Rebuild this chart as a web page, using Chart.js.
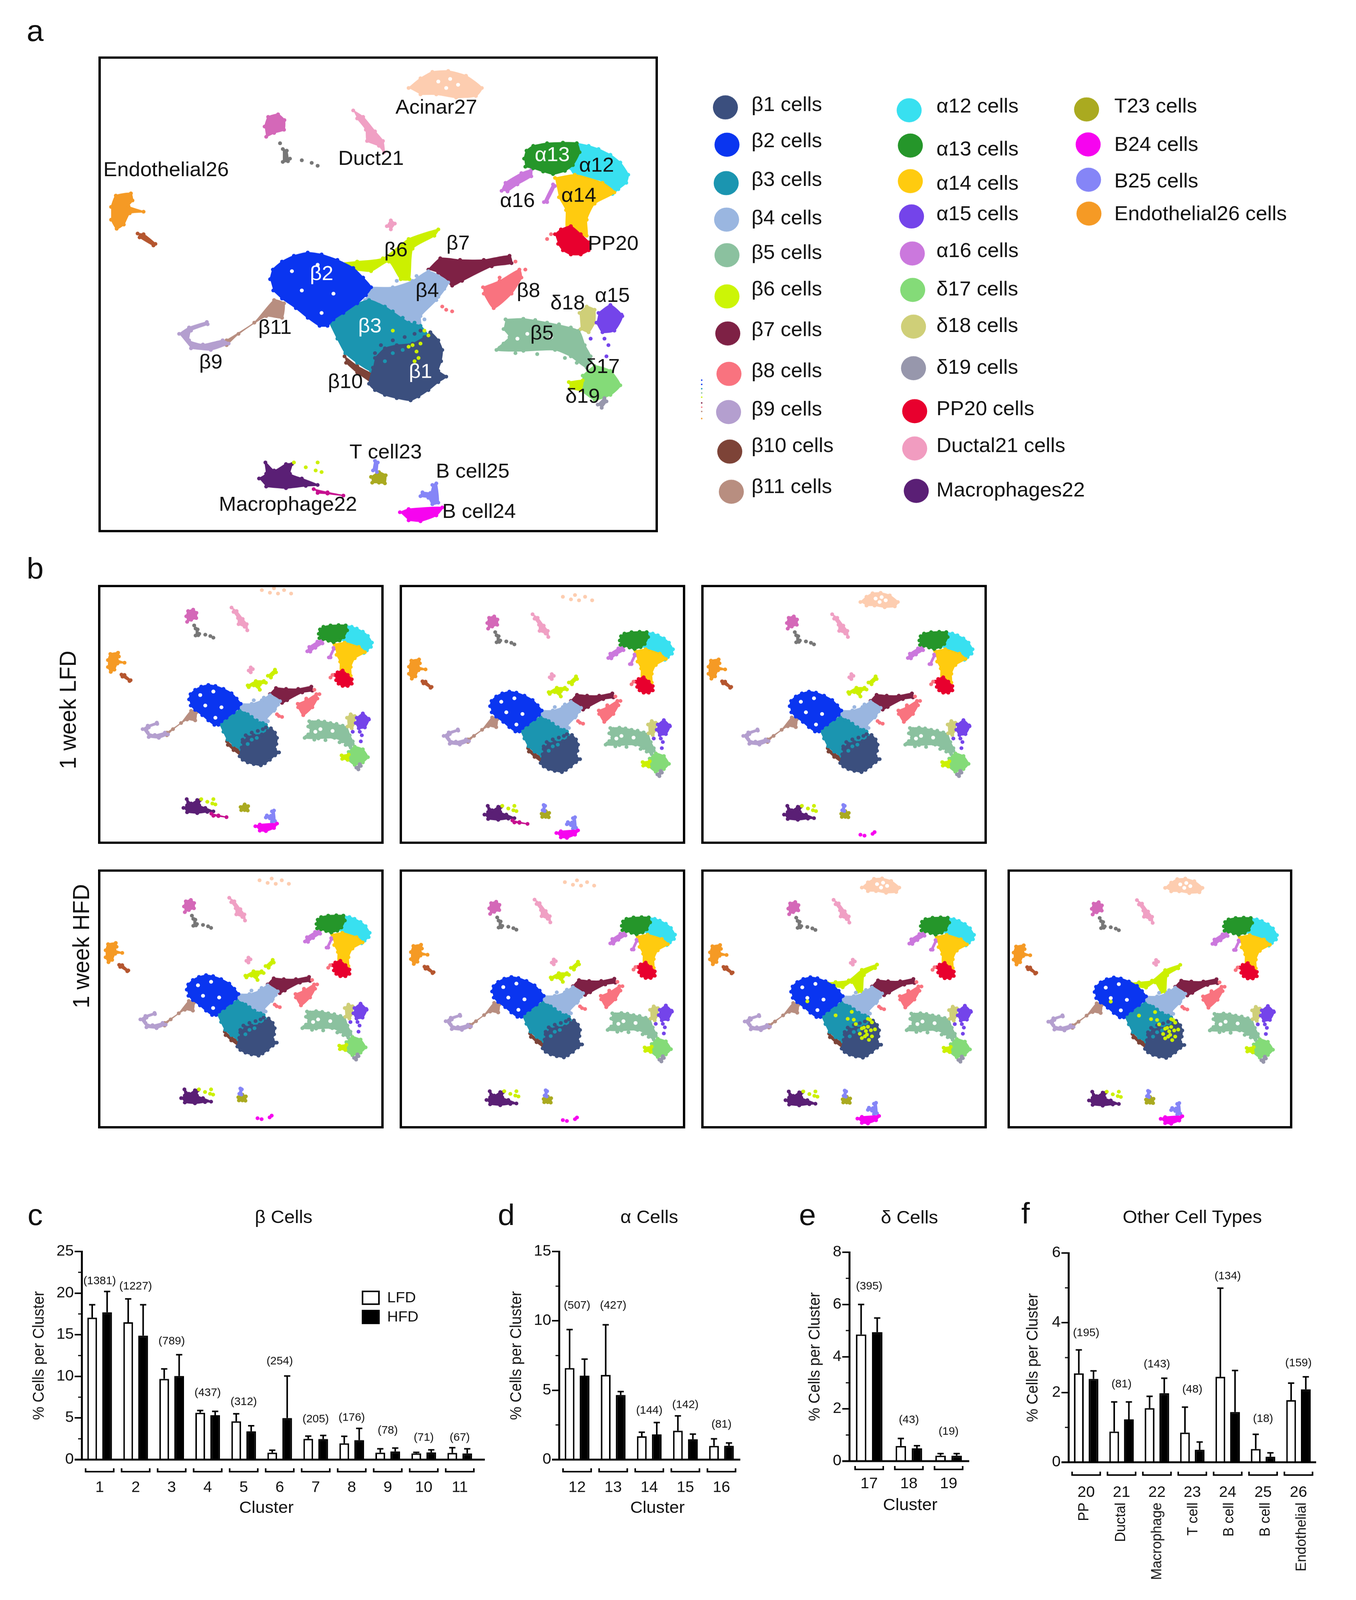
<!DOCTYPE html>
<html>
<head>
<meta charset="utf-8">
<script src="https://cdn.jsdelivr.net/npm/chart.js@4"></script>
<style>
  html, body { margin: 0; background: #fff; overflow: hidden; }
  #page { position: relative; width: 3471px; height: 4251px; overflow: hidden; transform-origin: 0 0; font-family: "Liberation Sans", Arial, sans-serif; color: #111; }
  canvas { position: absolute; }
  .txt { position: absolute; white-space: nowrap; line-height: 1; }
</style>
</head>
<body>
<div id="page"></div>
<script>
const FONT = '"Liberation Sans", Arial, sans-serif';
Chart.defaults.font.family = FONT;
Chart.defaults.color = "#111";

const betaLabels = ["1","2","3","4","5","6","7","8","9","10","11"];
const betaLFD = [17.06,16.5,9.7,5.63,4.6,0.84,2.5,1.96,0.84,0.75,0.8];
const betaHFD = [17.7,14.9,10.05,5.34,3.4,5.0,2.48,2.34,0.98,0.87,0.75];
const betaLFDTop = [18.6,19.3,10.9,5.9,5.5,1.13,2.83,2.8,1.3,0.87,1.44];
const betaHFDTop = [20.2,18.6,12.6,5.8,4.07,10.05,2.9,3.75,1.39,1.18,1.3];
const betaCounts = ["(1381)","(1227)","(789)","(437)","(312)","(254)","(205)","(176)","(78)","(71)","(67)"];
const betaCountY = [21.45,20.8,14.2,8.0,6.9,11.8,4.85,5.0,3.5,2.63,2.63];

const alphaLabels = ["12","13","14","15","16"];
const alphaLFD = [6.6,6.1,1.68,2.08,0.99];
const alphaHFD = [6.05,4.66,1.82,1.47,1.0];
const alphaLFDTop = [9.37,9.72,1.97,3.15,1.5];
const alphaHFDTop = [7.24,4.9,2.67,1.84,1.2];
const alphaCounts = ["(507)","(427)","(144)","(142)","(81)"];
const alphaCountY = [11.1,11.1,3.53,3.93,2.53];

const deltaLabels = ["17","18","19"];
const deltaLFD = [4.85,0.58,0.21];
const deltaHFD = [4.94,0.49,0.21];
const deltaLFDTop = [6.0,0.87,0.29];
const deltaHFDTop = [5.48,0.59,0.29];
const deltaCounts = ["(395)","(43)","(19)"];
const deltaCountY = [6.69,1.57,1.12];

const otherLabels = ["20","21","22","23","24","25","26"];
const otherNames = ["PP","Ductal","Macrophage","T cell","B cell","B cell","Endothelial"];
const otherLFD = [2.55,0.88,1.55,0.85,2.45,0.38,1.78];
const otherHFD = [2.39,1.23,1.98,0.36,1.44,0.16,2.09];
const otherLFDTop = [3.22,1.73,1.89,1.58,4.99,0.8,2.27];
const otherHFDTop = [2.62,1.73,2.41,0.58,2.63,0.27,2.45];
const otherCounts = ["(195)","(81)","(143)","(48)","(134)","(18)","(159)"];
const otherCountY = [3.70,2.23,2.81,2.08,5.33,1.24,2.84];

// --- UMAP cluster outlines (x 46-1460, y 52-1532 is the frame)
const acinar = [[830,150],[860,120],[890,100],[930,97],[975,112],[1015,150],[1000,175],[950,180],[900,170],[860,170]];
const duct = [[690,220],[715,240],[745,285],[765,315],[768,350],[755,330],[725,315],[722,280],[700,245]];
const topPink = [[466,270],[475,240],[500,232],[516,250],[515,280],[490,290],[470,302]];
const greyBit = [[512,340],[522,345],[525,378],[512,380]];
const endo = [[78,520],[90,485],[128,478],[132,500],[122,518],[160,535],[125,540],[110,575],[92,588],[78,560]];
const endoTail = [[145,603],[160,605],[190,635],[185,640],[150,615]];
const a13 = [[1122,370],[1128,345],[1145,330],[1180,322],[1220,320],[1255,322],[1262,350],[1245,390],[1225,408],[1195,418],[1170,410],[1145,400],[1125,395]];
const a12 = [[1255,322],[1285,330],[1310,340],[1340,358],[1365,382],[1385,420],[1380,445],[1360,465],[1345,480],[1320,440],[1250,420],[1240,400],[1262,350]];
const a14 = [[1200,430],[1250,420],[1320,445],[1350,475],[1300,510],[1280,560],[1280,610],[1230,590],[1228,530],[1210,490]];
const pp20 = [[1200,605],[1215,590],[1240,580],[1265,605],[1285,630],[1285,655],[1265,668],[1240,668],[1220,655],[1208,635]];
const a16 = [[1065,470],[1075,445],[1115,415],[1140,405],[1140,425],[1105,450],[1080,472]];
const a16b = [[1172,505],[1195,450],[1200,455],[1180,505]];
const b2 = [[480,745],[487,715],[510,690],[540,672],[575,662],[610,668],[650,685],[690,710],[715,740],[735,770],[722,795],[700,820],[665,850],[640,870],[625,890],[605,890],[575,865],[545,835],[510,805],[488,780]];
const b6 = [[660,695],[700,690],[765,680],[830,620],[905,590],[895,610],[840,650],[832,745],[810,745],[780,690],[735,720],[690,715]];
const b6ThinA = [[770,665],[810,640],[850,640],[860,650],[830,660],[830,690],[800,665],[775,675]];
const b6ThinB = [[870,610],[905,575],[910,590],[885,620]];
const b7 = [[880,715],[910,680],[960,685],[1020,685],[1085,672],[1090,695],[1040,705],[965,750],[940,765],[905,725]];
const b8 = [[1018,770],[1060,750],[1110,715],[1115,740],[1090,790],[1045,835],[1020,790]];
const b4 = [[735,770],[790,770],[840,750],[880,720],[930,755],[900,810],[860,860],[860,890],[820,880],[770,835],[720,810]];
const b3 = [[630,880],[650,930],[670,975],[700,1005],[735,1030],[745,1000],[770,960],[830,945],[880,925],[860,890],[830,880],[770,830],[730,810],[680,830]];
const b1 = [[745,990],[770,960],[800,950],[840,945],[870,925],[885,910],[905,935],[915,965],[912,1000],[905,1030],[925,1048],[905,1065],[880,1090],[855,1110],[835,1122],[800,1115],[770,1105],[745,1090],[730,1070],[740,1020]];
const b10 = [[668,985],[700,1015],[765,1060],[750,1075],[700,1035],[672,1005]];
const b11 = [[370,935],[440,880],[490,810],[515,820],[510,865],[470,860],[400,915],[370,950]];
const b9 = [[250,915],[275,895],[320,878],[322,885],[280,905],[275,935],[310,948],[360,935],[375,945],[330,965],[280,960]];
const b5 = [[1075,870],[1120,868],[1180,880],[1260,905],[1275,950],[1290,985],[1280,1020],[1240,985],[1200,965],[1120,968],[1052,965],[1085,925],[1070,900]];
const d17 = [[1270,1045],[1300,1015],[1340,1030],[1365,1075],[1340,1105],[1300,1120],[1265,1090]];
const d18 = [[1262,850],[1280,830],[1300,840],[1300,880],[1285,910],[1265,900]];
const a15 = [[1310,850],[1340,825],[1370,860],[1350,905],[1320,910],[1305,880]];
const d19 = [[1308,1135],[1325,1115],[1330,1125],[1318,1145]];
const b6Low = [[1235,1065],[1270,1060],[1265,1090],[1238,1085]];
const macro = [[452,1365],[470,1350],[468,1315],[490,1340],[520,1320],[535,1320],[530,1350],[560,1365],[600,1385],[570,1388],[520,1395],[470,1390]];
const macroTail = [[590,1398],[625,1408],[665,1418],[625,1412],[600,1410]];
const t23 = [[735,1360],[755,1345],[772,1355],[770,1380],[755,1378],[738,1378]];
const b25Top = [[740,1340],[745,1310],[752,1315],[750,1345]];
const bc25 = [[890,1385],[900,1380],[905,1440],[890,1445],[880,1425],[860,1420],[865,1408],[885,1410]];
const bc24 = [[808,1470],[830,1460],[915,1455],[900,1480],[860,1498],[830,1495]];
const topBit = [[775,580],[785,562],[795,572],[785,590]];

// draw order matters, later ones sit on top
const outlines = [
  ["acinar",acinar,"#fdcdb0"],["duct",duct,"#f0a0c4"],["topPink",topPink,"#d468b8"],["greyBit",greyBit,"#777777"],
  ["endo",endo,"#f59a25"],["endoTail",endoTail,"#b5562f"],["a16",a16,"#cb78dd"],["a16b",a16b,"#cb78dd"],
  ["a12",a12,"#38e0f0"],["a14",a14,"#ffcb0f"],["a13",a13,"#25962a"],["pp20",pp20,"#e8002e"],
  ["b6",b6,"#ccf000"],["b6ThinA",b6ThinA,"#ccf000"],["b6ThinB",b6ThinB,"#ccf000"],["b7",b7,"#7e2145"],["b8",b8,"#f9737f"],
  ["b11",b11,"#b88e80"],["b9",b9,"#b49fcf"],["b10",b10,"#7d4337"],["b4",b4,"#9ab6e0"],["b3",b3,"#1b95b0"],
  ["b1",b1,"#3b4f7e"],["b2",b2,"#0a35f0"],["b5",b5,"#8bc19f"],["d17",d17,"#84db78"],["d18",d18,"#cfcf78"],
  ["a15",a15,"#7444ea"],["d19",d19,"#9797ac"],["b6Low",b6Low,"#ccf000"],["macro",macro,"#5a1f75"],
  ["macroTail",macroTail,"#c6108f"],["t23",t23,"#aaaa20"],["b25Top",b25Top,"#8585f7"],["bc25",bc25,"#8585f7"],
  ["bc24",bc24,"#f604ef"],["topBit",topBit,"#f0a0c4"]
];

// loose dots
const greyDots = [[505,322],[530,370],[560,375],[585,383],[600,392]];
const acinarDots = [[840,120],[880,135],[900,110],[920,140],[950,120],[985,140]];
const acinarHoles = [[905,130],[935,122],[955,140],[925,150]];
const yellowInBeta1 = [[840,950],[850,970],[855,990],[830,955],[870,905],[880,920],[860,945],[845,1000],[790,905]];
const yellowHeavy = [[860,900],[880,1000],[865,1020],[820,985],[800,930],[760,900],[700,880],[780,860],[560,800],[830,1010],[895,960],[875,965]];
const yellowNearMacro = [[600,1315],[595,1340],[570,1330],[610,1345],[540,1315]];
const redDots = [[1100,690],[1125,715],[1060,740],[925,840],[940,845],[915,830],[1190,605],[1180,620]];
const purpleDots = [[1325,930],[1335,950],[1330,985],[1290,930],[1368,855]];
const b24Dots = [[830,1480],[850,1485],[890,1475],[900,1465]];
const beta5Edge = [[1090,875],[1150,872],[1210,885],[1240,895],[1070,945],[1100,975],[1155,978],[1225,990],[1255,1005],[1290,1000],[1060,958],[1080,905],[1190,960]];
const beta5Holes = [[1130,915],[1190,925],[1105,930]];
const beta1InBeta3 = [[760,950],[790,935],[820,925],[745,975],[845,915],[860,905]];
const beta3InBeta1 = [[790,975],[770,1000],[815,965]];
const beta3InBeta4 = [[790,845],[815,865],[755,825],[845,880]];
const whiteInBeta2 = [[600,700],[560,780],[640,790],[610,850],[535,720]];
const beta4Edge = [[800,750],[850,735],[870,870],[745,790],[920,775],[905,800]];
const dotSets = [
  ["greyDots",greyDots,"#777777"],["acinarDots",acinarDots,"#fdcdb0"],["acinarHoles",acinarHoles,"#ffffff"],
  ["beta5Edge",beta5Edge,"#8bc19f"],["beta5Holes",beta5Holes,"#ffffff"],["whiteInBeta2",whiteInBeta2,"#ffffff"],
  ["beta4Edge",beta4Edge,"#9ab6e0"],["beta1InBeta3",beta1InBeta3,"#3b4f7e"],["beta3InBeta1",beta3InBeta1,"#1b95b0"],["beta3InBeta4",beta3InBeta4,"#1b95b0"],
  ["yellowInBeta1",yellowInBeta1,"#ccf000"],["yellowHeavy",yellowHeavy,"#ccf000"],["yellowNearMacro",yellowNearMacro,"#ccf000"],
  ["redDots",redDots,"#f9737f"],["purpleDots",purpleDots,"#7444ea"],["b24Dots",b24Dots,"#f604ef"]
];

// labels inside panel a
const umapLabels = ["Acinar27","Duct21","Endothelial26","α13","α12","α16","α14","PP20","β6","β7","β2","β4","β8","δ18","α15","β11","β3","β5","β9","β1","β10","δ17","δ19","T cell23","B cell25","Macrophage22","B cell24"];
const umapLabelX = [900,735,217,1193,1305,1105,1260,1347,798,955,610,877,1133,1232,1345,492,732,1167,330,860,670,1320,1270,772,992,525,1008];
const umapLabelY = [213,372,407,360,393,503,487,637,657,635,730,783,783,822,798,898,893,915,1005,1035,1067,1020,1112,1285,1345,1448,1470];
const umapLabelWhite = ["α13","β2","β3","β1"];

// legend of panel a
const legendNames = ["β1 cells","β2 cells","β3 cells","β4 cells","β5 cells","β6 cells","β7 cells","β8 cells","β9 cells","β10 cells","β11 cells","α12 cells","α13 cells","α14 cells","α15 cells","α16 cells","δ17 cells","δ18 cells","δ19 cells","PP20 cells","Ductal21 cells","Macrophages22","T23 cells","B24 cells","B25 cells","Endothelial26 cells"];
const legendColors = ["#3b4f7e","#0a35f0","#1b95b0","#9ab6e0","#8bc19f","#ccf506","#7e2145","#f9737f","#b49fcf","#7d4337","#b88e80","#38e0f0","#25962a","#ffcb0f","#7444ea","#cb78dd","#84db78","#cfcf78","#9797ac","#e8002e","#f19cc0","#5a1f75","#aaaa20","#f604ef","#8585f7","#f59a25"];
const legendDotX = [74,78,76,77,78,78,80,83,82,85,89,539,542,542,545,547,548,550,550,553,553,557,988,992,993,994];
const legendDotY = [97,228,363,491,616,761,891,1033,1167,1306,1447,107,231,356,480,610,738,867,1013,1164,1295,1444,104,227,351,470];
const legendTextX = [140,140,140,140,140,140,140,140,140,140,140,608,608,608,608,608,608,608,608,608,608,608,1058,1058,1058,1058];
const legendTextY = [90,218,353,489,610,738,881,1025,1160,1288,1432,96,246,367,474,604,738,866,1013,1159,1288,1444,96,231,359,474];
const strayTickY = [1055,1070,1085,1100,1115,1135,1150,1165,1190];
const strayTickColors = ["#0a35f0","#0a35f0","#1b95b0","#8bc19f","#ccf506","#7e2145","#f9737f","#b88e80","#f59a25"];

// panels of b: frame, shift of the map inside the frame, what is dropped or added per sample
const panelFrames = [[246,1549,987,2247],[1018,1549,1759,2247],[1790,1549,2531,2247],[246,2305,987,3003],[1018,2305,1759,3003],[1790,2305,2531,3003],[2574,2305,3313,3003]];
const panelShiftX = [0.012,0.010,0.003,0.004,0.017,0.008,-0.001];
const panelShiftY = [-0.026,0,0,-0.004,0.003,0.004,0.005];
const panelHide = [
  ["acinar","acinarHoles","b6","b25Top","yellowInBeta1","yellowHeavy"],
  ["acinar","acinarHoles","b6","yellowInBeta1","yellowHeavy"],
  ["acinarDots","b6","bc24","bc25","macroTail","yellowInBeta1","yellowHeavy"],
  ["acinar","acinarHoles","b6","bc24","bc25","macroTail","yellowInBeta1","yellowHeavy"],
  ["acinar","acinarHoles","b6","bc24","bc25","macroTail","yellowInBeta1","yellowHeavy"],
  ["acinarDots","b6ThinA","b6ThinB","b24Dots","macroTail"],
  ["acinarDots","b6ThinA","b6ThinB","b24Dots","macroTail"]
];

const page = document.getElementById("page");
// the browser window can be shorter than the figure; squeeze so nothing falls off the bottom
if (window.innerHeight < 4251) page.style.transform = "scale(1," + window.innerHeight / 4251 + ")";

function addCanvas(x, y, w, h) {
  const c = document.createElement("canvas");
  c.width = w; c.height = h;
  c.style.left = x + "px"; c.style.top = y + "px";
  c.style.width = w + "px"; c.style.height = h + "px";
  page.appendChild(c);
  return c;
}

// page level text; rot = true reads upwards, anchored at x,y centre or at the top when hang = true
function addText(str, x, y, size, rot, hang) {
  const d = document.createElement("div");
  d.className = "txt";
  d.textContent = str;
  d.style.left = x + "px"; d.style.top = y + "px";
  d.style.fontSize = size + "px";
  if (hang) { d.style.transformOrigin = "100% 50%"; d.style.transform = "translate(-100%,-50%) rotate(-90deg)"; }
  else d.style.transform = "translate(-50%,-50%)" + (rot ? " rotate(-90deg)" : "");
  page.appendChild(d);
}

const framePlugin = {
  id: "frame",
  afterDraw(chart, args, opts) {
    if (!opts.width) return;
    const a = chart.chartArea, ctx = chart.ctx, w = opts.width;
    ctx.save();
    ctx.strokeStyle = "#000"; ctx.lineWidth = w;
    ctx.strokeRect(a.left + w / 2, a.top + w / 2, a.width - w, a.height - w);
    ctx.restore();
  }
};

const umapTextPlugin = {
  id: "umapText",
  afterDraw(chart, args, opts) {
    if (!opts.labels) return;
    const ctx = chart.ctx;
    ctx.save();
    ctx.font = opts.size + "px " + FONT;
    ctx.textBaseline = "middle";
    ctx.textAlign = opts.align || "center";
    opts.labels.forEach((t, i) => {
      ctx.fillStyle = opts.white && opts.white.includes(t) ? "#fff" : "#111";
      ctx.fillText(t, chart.scales.x.getPixelForValue(opts.xs[i]), chart.scales.y.getPixelForValue(opts.ys[i]));
    });
    ctx.restore();
  }
};

// chart.js paints low order last, so a falling order keeps later clusters on top
function umapDatasets(hide, radius) {
  const sets = [];
  outlines.forEach(([name, pts, color]) => {
    if (hide.includes(name)) return;
    sets.push({ data: pts, order: -sets.length, fill: "shape", backgroundColor: color, borderColor: color, borderWidth: 3,
      tension: 0.2, pointRadius: radius, pointBorderWidth: 0, pointBackgroundColor: color });
  });
  dotSets.forEach(([name, pts, color]) => {
    if (hide.includes(name)) return;
    sets.push({ data: pts, order: -sets.length, showLine: false, pointRadius: radius, pointBorderWidth: 0, pointBackgroundColor: color });
  });
  return sets;
}

function umapChart(frame, datasets, shiftX, shiftY, borderW, text) {
  const [x0, y0, x1, y1] = frame;
  const dx = shiftX * 1414, dy = shiftY * 1480;
  return new Chart(addCanvas(x0, y0, x1 - x0, y1 - y0), {
    type: "line",
    data: { datasets },
    plugins: [framePlugin, umapTextPlugin],
    options: {
      responsive: false, animation: false, devicePixelRatio: 1, events: [],
      layout: { padding: 0 },
      scales: {
        x: { type: "linear", display: false, min: 46 - dx, max: 1460 - dx },
        y: { type: "linear", display: false, reverse: true, min: 52 - dy, max: 1532 - dy }
      },
      plugins: { legend: { display: false }, tooltip: { enabled: false }, frame: { width: borderW }, umapText: text || {} }
    }
  });
}

// bars: whiskers, minor ticks, baseline, brackets, (n) labels
const barExtras = {
  id: "barExtras",
  afterDatasetsDraw(chart, args, o) {
    const ctx = chart.ctx, xs = chart.scales.x, ys = chart.scales.y, a = chart.chartArea;
    ctx.save();
    ctx.strokeStyle = "#000"; ctx.fillStyle = "#111"; ctx.lineWidth = 4;
    // whiskers
    [o.lfdTop, o.hfdTop].forEach((tops, ds) => {
      chart.getDatasetMeta(ds).data.forEach((bar, i) => {
        const top = ys.getPixelForValue(tops[i]);
        ctx.beginPath();
        ctx.moveTo(bar.x, bar.y); ctx.lineTo(bar.x, top);
        ctx.moveTo(bar.x - 8, top); ctx.lineTo(bar.x + 8, top);
        ctx.stroke();
      });
    });
    // minor ticks
    ctx.lineWidth = 3;
    for (let v = o.step / 2; v < ys.max; v += o.step) {
      const y = ys.getPixelForValue(v);
      ctx.beginPath(); ctx.moveTo(a.left, y); ctx.lineTo(a.left - 9, y); ctx.stroke();
    }
    // baseline
    ctx.lineWidth = 5;
    ctx.beginPath(); ctx.moveTo(a.left - 18, a.bottom); ctx.lineTo(a.right + o.axisExt, a.bottom); ctx.stroke();
    // brackets under each group
    ctx.lineWidth = 4;
    chart.data.labels.forEach((l, i) => {
      const c = xs.getPixelForValue(i), y = a.bottom + o.bracketAt;
      ctx.beginPath();
      ctx.moveTo(c - 36, y - 9); ctx.lineTo(c - 36, y); ctx.lineTo(c + 36, y); ctx.lineTo(c + 36, y - 9);
      ctx.stroke();
    });
    // cell counts
    ctx.font = "29px " + FONT;
    ctx.textAlign = "center"; ctx.textBaseline = "middle";
    o.counts.forEach((t, i) => ctx.fillText(t, xs.getPixelForValue(i), ys.getPixelForValue(o.countY[i])));
    // small legend, only on panel c
    if (o.legendAt) {
      const [lx, ly] = o.legendAt;
      chart.data.datasets.forEach((d, i) => {
        const y = ly + i * 51;
        ctx.fillStyle = d.backgroundColor; ctx.lineWidth = 4;
        ctx.fillRect(lx, y, 42, 34); ctx.strokeRect(lx, y, 42, 34);
        ctx.fillStyle = "#111"; ctx.font = "39px " + FONT; ctx.textAlign = "left";
        ctx.fillText(d.label, lx + 63, y + 18);
      });
    }
    ctx.restore();
  }
};

function barChart(box, labels, lfd, hfd, lfdTop, hfdTop, counts, countY, yMax, step, extra) {
  const { axisX, right, yTop, yZero, yBox, catPct, barPct, bracketAt, axisExt, legendAt } = Object.assign({}, box, extra);
  const padTop = 30, padRight = 40, xBox = 110;
  const left = axisX - yBox, top = yTop - padTop;
  const c = addCanvas(left, top, right + padRight - left, yZero + xBox - top);
  return new Chart(c, {
    type: "bar",
    data: {
      labels,
      datasets: [
        { label: "LFD", data: lfd, backgroundColor: "#ffffff", borderColor: "#000", borderWidth: 4, categoryPercentage: catPct, barPercentage: barPct },
        { label: "HFD", data: hfd, backgroundColor: "#000000", borderColor: "#000", borderWidth: 4, categoryPercentage: catPct, barPercentage: barPct }
      ]
    },
    plugins: [barExtras],
    options: {
      responsive: false, animation: false, devicePixelRatio: 1, events: [],
      layout: { padding: { top: padTop, right: padRight, left: 0, bottom: 0 } },
      scales: {
        x: {
          afterFit: s => { s.height = xBox; },
          grid: { display: false }, border: { display: false },
          ticks: { font: { size: 40 }, color: "#111", padding: box.tickPad, maxRotation: 0, autoSkip: false }
        },
        y: {
          min: 0, max: yMax,
          afterFit: s => { s.width = yBox; },
          ticks: { stepSize: step, font: { size: 40 }, color: "#111", padding: 2 },
          grid: { drawOnChartArea: false, color: "#000", lineWidth: 4, tickLength: 18 },
          border: { color: "#000", width: 5 },
          title: { display: true, text: "% Cells per Cluster", font: { size: 40 }, color: "#111", padding: 0 }
        }
      },
      plugins: {
        legend: { display: false }, tooltip: { enabled: false },
        barExtras: { lfdTop, hfdTop, counts, countY, step, bracketAt, axisExt, legendAt: legendAt ? [legendAt[0] - left, legendAt[1] - top] : null }
      }
    }
  });
}

// panel a
umapChart([247, 145, 1689, 1419], umapDatasets(["b6ThinA","b6ThinB","acinarDots","b24Dots","yellowHeavy"], 5), 0, 0, 6,
  { labels: umapLabels, xs: umapLabelX, ys: umapLabelY, white: umapLabelWhite, size: 53 });

// legend next to panel a
new Chart(addCanvas(1750, 180, 1650, 1250), {
  type: "scatter",
  data: {
    datasets: [
      { data: legendDotX.map((x, i) => ({ x, y: legendDotY[i] })), pointRadius: 32, pointBorderWidth: 0, pointBackgroundColor: legendColors },
      { data: strayTickY.map(y => ({ x: 14, y })), pointRadius: 2, pointBorderWidth: 0, pointBackgroundColor: strayTickColors }
    ]
  },
  plugins: [umapTextPlugin],
  options: {
    responsive: false, animation: false, devicePixelRatio: 1, events: [],
    scales: {
      x: { display: false, min: 0, max: 1568 },
      y: { display: false, reverse: true, min: 0, max: 1568 }
    },
    plugins: { legend: { display: false }, tooltip: { enabled: false },
      umapText: { labels: legendNames, xs: legendTextX, ys: legendTextY, size: 53, align: "left" } }
  }
});

// panels of b
panelFrames.forEach((f, i) => {
  umapChart(f, umapDatasets(panelHide[i], 5), panelShiftX[i], panelShiftY[i], 6);
});

// bar panels
barChart({ axisX: 209, right: 1223, yTop: 3325, yZero: 3878, yBox: 132, catPct: 0.83, barPct: 0.65, bracketAt: 32, axisExt: 18, tickPad: 43 },
  betaLabels, betaLFD, betaHFD, betaLFDTop, betaHFDTop, betaCounts, betaCountY, 25, 5, { legendAt: [928, 3431] });
barChart({ axisX: 1431, right: 1893, yTop: 3325, yZero: 3878, yBox: 132, catPct: 0.83, barPct: 0.65, bracketAt: 32, axisExt: 2, tickPad: 43 },
  alphaLabels, alphaLFD, alphaHFD, alphaLFDTop, alphaHFDTop, alphaCounts, alphaCountY, 15, 5);
barChart({ axisX: 2174, right: 2479, yTop: 3327, yZero: 3882, yBox: 111, catPct: 0.81, barPct: 0.65, bracketAt: 22, axisExt: 2, tickPad: 29 },
  deltaLabels, deltaLFD, deltaHFD, deltaLFDTop, deltaHFDTop, deltaCounts, deltaCountY, 8, 2);
barChart({ axisX: 2735, right: 3369, yTop: 3329, yZero: 3885, yBox: 114, catPct: 0.83, barPct: 0.665, bracketAt: 34, axisExt: 0, tickPad: 49 },
  otherLabels, otherLFD, otherHFD, otherLFDTop, otherHFDTop, otherCounts, otherCountY, 6, 2);

// page text
addText("a", 90, 82, 78);
addText("b", 90, 1510, 78);
addText("c", 90, 3228, 78);
addText("d", 1296, 3228, 78);
addText("e", 2067, 3228, 78);
addText("f", 2625, 3224, 78);
addText("1 week LFD", 174, 1886, 59, true);
addText("1 week HFD", 208, 2514, 60, true);
addText("β Cells", 726, 3233, 48);
addText("α Cells", 1662, 3233, 48);
addText("δ Cells", 2328, 3235, 48);
addText("Other Cell Types", 3052, 3234, 48);
addText("Cluster", 682, 4005, 44);
addText("Cluster", 1683, 4005, 44);
addText("Cluster", 2330, 3997, 44);
const otherNameX = [2773, 2867, 2960, 3052, 3144, 3237, 3330];
otherNames.forEach((n, i) => addText(n, otherNameX[i], 3992, 37, true, true));
</script>
</body>
</html>
